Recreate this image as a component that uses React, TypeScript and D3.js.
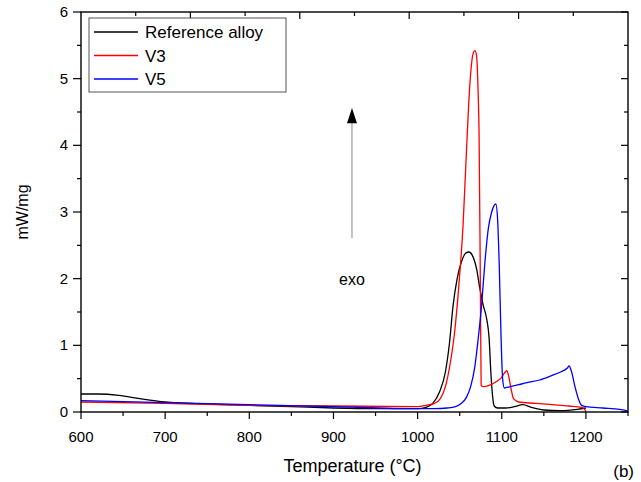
import React from "react";
import * as d3 from "d3";

// DSC traces
const refT = [600, 620, 645, 670, 700, 750, 800, 850, 900, 950, 1000, 1010, 1018, 1026, 1033, 1038, 1042, 1047, 1052, 1057, 1061, 1065, 1070, 1074, 1078, 1082, 1085, 1087, 1089, 1091, 1095, 1105, 1115, 1125, 1135, 1150, 1170, 1190, 1200];
const refV = [0.27, 0.27, 0.25, 0.2, 0.15, 0.12, 0.1, 0.08, 0.06, 0.05, 0.05, 0.07, 0.13, 0.3, 0.6, 1.05, 1.58, 2.0, 2.25, 2.38, 2.4, 2.35, 2.15, 1.85, 1.6, 1.4, 1.1, 0.6, 0.25, 0.09, 0.06, 0.06, 0.08, 0.11, 0.07, 0.03, 0.02, 0.04, 0.06];

const v3T = [600, 700, 800, 900, 1000, 1010, 1020, 1027, 1033, 1039, 1044, 1049, 1054, 1058, 1062, 1066, 1068, 1070, 1072, 1073, 1074.5, 1075.5, 1078, 1085, 1095, 1100, 1104, 1106, 1108, 1111, 1114, 1120, 1140, 1160, 1180, 1195, 1199, 1200];
const v3V = [0.15, 0.13, 0.1, 0.09, 0.08, 0.1, 0.13, 0.2, 0.38, 0.75, 1.2, 1.9, 2.8, 3.9, 4.9, 5.38, 5.42, 5.35, 4.75, 4.2, 2.0, 0.4, 0.38, 0.4, 0.47, 0.52, 0.6, 0.62, 0.55, 0.35, 0.2, 0.15, 0.13, 0.11, 0.09, 0.07, 0.03, 0];

const v5T = [600, 700, 800, 900, 1000, 1020, 1035, 1045, 1052, 1058, 1063, 1068, 1072, 1076, 1080, 1084, 1088, 1091, 1093, 1095, 1097, 1099, 1101, 1103, 1110, 1120, 1130, 1145, 1160, 1170, 1178, 1180, 1183, 1187, 1191, 1195, 1200, 1220, 1240, 1248, 1250];
const v5V = [0.17, 0.14, 0.11, 0.08, 0.05, 0.05, 0.06, 0.08, 0.13, 0.22, 0.38, 0.68, 1.1, 1.6, 2.25, 2.75, 3.0, 3.1, 3.12, 2.9, 2.2, 1.2, 0.5, 0.36, 0.38, 0.41, 0.44, 0.48, 0.55, 0.6, 0.66, 0.69, 0.6, 0.38, 0.2, 0.1, 0.08, 0.06, 0.04, 0.02, 0];

const seriesNames = ["Reference alloy", "V3", "V5"];
const seriesColors = ["#000000", "#ff0000", "#0000ff"];

const xTicks = [600, 700, 800, 900, 1000, 1100, 1200];
const yTicks = [0, 1, 2, 3, 4, 5, 6];

const W = 641;
const H = 482;
const m = { left: 81, right: 13, top: 12, bottom: 70 };
const font = "Arial, 'Liberation Sans', sans-serif";

const App = () => {
  const x = d3.scaleLinear().domain([600, 1250]).range([m.left, W - m.right]);
  const y = d3.scaleLinear().domain([0, 6]).range([H - m.bottom, m.top]);

  const line = d3
    .line<[number, number]>()
    .x((d) => x(d[0]))
    .y((d) => y(d[1]))
    .curve(d3.curveMonotoneX);

  const series = [
    d3.zip(refT, refV) as [number, number][],
    d3.zip(v3T, v3V) as [number, number][],
    d3.zip(v5T, v5V) as [number, number][],
  ];

  const x0 = x.range()[0];
  const x1 = x.range()[1];
  const y0 = y.range()[0];
  const y1 = y.range()[1];

  // minor ticks halfway between majors
  const xMinor = d3.range(650, 1251, 100);
  const yHalf = d3.range(0, 6.01, 0.5);
  // top axis: ten equal steps, every other one long
  const topTicks = d3.range(1, 10).map((i) => ({ v: 600 + i * 65, major: i % 2 === 0 }));

  return (
    <svg width={W} height={H} style={{ position: "absolute", left: 0, top: 0, background: "#fff" }}>
      {/* curves */}
      <g fill="none" strokeWidth={1.3} strokeLinejoin="round">
        {series.map((s, i) => (
          <path key={i} d={line(s) ?? ""} stroke={seriesColors[i]} />
        ))}
      </g>

      {/* frame */}
      <rect x={x0} y={y1} width={x1 - x0} height={y0 - y1} fill="none" stroke="#000" strokeWidth={1.4} />

      {/* bottom axis, ticks outward */}
      <g stroke="#000" strokeWidth={1.2}>
        {xTicks.map((t) => (
          <line key={"xb" + t} x1={x(t)} x2={x(t)} y1={y0} y2={y0 + 7} />
        ))}
        {xMinor.map((t) => (
          <line key={"xm" + t} x1={x(t)} x2={x(t)} y1={y0} y2={y0 + 4} />
        ))}
        {topTicks.map((t) => (
          <line key={"xt" + t.v} x1={x(t.v)} x2={x(t.v)} y1={y1} y2={y1 + (t.major ? 7 : 4)} />
        ))}
        {yHalf.map((t, i) => (
          <line key={"yl" + t} x1={x0} x2={x0 - (i % 2 === 0 ? 8 : 4)} y1={y(t)} y2={y(t)} />
        ))}
        {yHalf.map((t, i) => (
          <line key={"yr" + t} x1={x1} x2={x1 - (i % 2 === 0 ? 7 : 4)} y1={y(t)} y2={y(t)} />
        ))}
      </g>

      <g fontFamily={font} fontSize={15} fill="#000">
        {xTicks.map((t) => (
          <text key={"xl" + t} x={x(t)} y={y0 + 30} textAnchor="middle">
            {t}
          </text>
        ))}
        {yTicks.map((t) => (
          <text key={"ylb" + t} x={x0 - 13} y={y(t) + 5} textAnchor="end">
            {t}
          </text>
        ))}
      </g>

      {/* axis titles */}
      <text x={(x0 + x1) / 2 - 2} y={472} textAnchor="middle" fontFamily={font} fontSize={18}>
        Temperature (°C)
      </text>
      <text
        transform={`translate(28,${y(3)}) rotate(-90)`}
        textAnchor="middle"
        fontFamily={font}
        fontSize={16}
      >
        mW/mg
      </text>
      <text x={634} y={477} textAnchor="end" fontFamily={font} fontSize={17}>
        (b)
      </text>

      {/* exo arrow */}
      <line x1={x(922)} x2={x(922)} y1={y(2.61)} y2={y(4.35)} stroke="#888" strokeWidth={1} />
      <path
        d={`M${x(922)},${y(4.56)} L${x(922) - 5},${y(4.33)} L${x(922) + 5},${y(4.33)} Z`}
        fill="#000"
      />
      <text x={x(922)} y={y(2.0) + 6} textAnchor="middle" fontFamily={font} fontSize={16}>
        exo
      </text>

      {/* legend */}
      <g fontFamily={font} fontSize={17}>
        <rect x={89} y={18} width={197} height={74} fill="#fff" stroke="#555" strokeWidth={1} />
        {seriesNames.map((n, i) => (
          <g key={n} transform={`translate(0,${32 + i * 23.5})`}>
            <line x1={94} x2={138} y1={0} y2={0} stroke={seriesColors[i]} strokeWidth={1.3} />
            <text x={145} y={6}>
              {n}
            </text>
          </g>
        ))}
      </g>
    </svg>
  );
};

export default App;
